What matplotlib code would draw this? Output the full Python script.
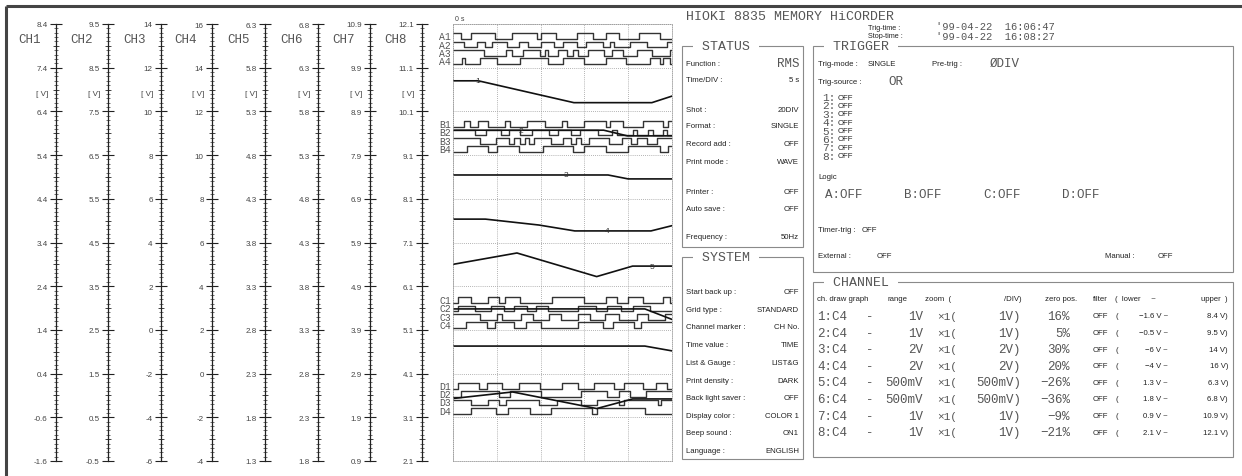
import numpy as np
import matplotlib.pyplot as plt
from matplotlib.patches import Rectangle

W, H = 1242, 477
BIG = ['Liberation Mono', 'DejaVu Sans Mono']
SMALL = ['Liberation Sans', 'DejaVu Sans']
INK = '#222222'
GREY = '#555555'

# ---- channel scales ----
ch_names = ['CH1', 'CH2', 'CH3', 'CH4', 'CH5', 'CH6', 'CH7', 'CH8']
ch_lower = [-1.6, -0.5, -6, -4, 1.3, 1.8, 0.9, 2.1]
ch_upper = [8.4, 9.5, 14, 16, 6.3, 6.8, 10.9, 12.1]
ch_fmt = ['{:.1f}', '{:.1f}', '{:.0f}', '{:.0f}', '{:.1f}', '{:.1f}', '{:.1f}', '{:.1f}']

# ---- analog traces (time in s, value in V) ----
ch1_t = [0, 2.9, 13.8, 22.7, 25]
ch1_v = [7.1, 7.1, 6.6, 6.6, 6.75]
ch2_t = [0, 17.2, 19.9, 25]
ch2_v = [7.07, 7.07, 6.94, 6.94]
ch3_t = [0, 17.7, 20.0, 25]
ch3_v = [7.09, 7.09, 6.91, 6.91]
ch4_t = [0, 3.7, 9.8, 13.9, 22.6, 25]
ch4_v = [7.07, 7.07, 6.8, 6.53, 6.53, 6.77]
ch5_t = [0, 7.3, 16.4, 20.5, 25]
ch5_v = [3.55, 3.68, 3.41, 3.53, 3.53]
ch6_t = [0, 21.9, 25]
ch6_v = [3.54, 3.54, 3.42]
ch7_t = [0, 21.9, 25]
ch7_v = [3.53, 3.53, 3.42]
ch8_t = [0, 6.8, 16.4, 20.5, 25]
ch8_v = [3.53, 3.68, 3.30, 3.52, 3.52]
trace_t = [ch1_t, ch2_t, ch3_t, ch4_t, ch5_t, ch6_t, ch7_t, ch8_t]
trace_v = [ch1_v, ch2_v, ch3_v, ch4_v, ch5_v, ch6_v, ch7_v, ch8_v]
marker_t = [2.85, 7.7, 12.9, 17.6, 22.7]

# ---- logic traces: start level and toggle times (s) ----
logic_names = ['A1', 'A2', 'A3', 'A4', 'B1', 'B2', 'B3', 'B4',
               'C1', 'C2', 'C3', 'C4', 'D1', 'D2', 'D3', 'D4']
logic_start = [1, 1, 1, 0, 0, 1, 1, 0, 0, 0, 1, 0, 0, 0, 1, 0]
logic_edges = [
    [0.9, 2.1, 4.8, 6.7, 9.6, 10.1, 11.8, 14.1, 16.0, 17.5, 18.9, 21.2, 23.6],
    [1.2, 2.7, 3.6, 4.4, 6.2, 7.5, 8.6, 10.1, 11.5, 12.6, 14.1, 15.2, 17.1, 17.9, 18.4, 20.2, 22.1, 24.4],
    [3.5, 6.0, 6.7, 8.0, 9.9, 10.5, 10.9, 12.0, 13.0, 13.7, 14.3, 15.4, 17.2, 18.1, 19.4, 21.0, 22.7, 24.8],
    [1.0, 1.4, 3.1, 5.0, 7.7, 10.9, 12.6, 14.9, 17.5, 19.7, 22.5, 23.6, 24.0, 24.8],
    [1.2, 1.9, 2.9, 4.0, 5.9, 6.5, 8.4, 10.5, 12.4, 13.0, 14.9, 17.5, 17.9, 19.4, 21.7, 24.0, 24.5],
    [2.5, 3.8, 5.5, 6.4, 7.6, 9.0, 11.0, 12.0, 13.5, 14.5, 16.5, 18.2, 18.7, 20.5, 21.0, 22.3, 22.8, 24.0, 24.4],
    [3.1, 4.9, 6.4, 7.0, 7.6, 8.2, 8.7, 9.3, 11.2, 12.5, 13.5, 14.0, 14.6, 15.5, 17.8, 19.3, 20.3, 21.0, 22.2, 23.3],
    [1.6, 4.0, 5.0, 7.5, 10.3, 13.7, 14.9, 17.5, 20.0, 23.6, 24.5],
    [0.6, 2.1, 4.0, 5.2, 5.9, 7.6, 11.3, 14.9, 17.5, 18.7, 20.0, 21.7, 24.0, 24.8],
    [0.6, 2.5, 4.3, 5.8, 7.0, 8.5, 9.5, 10.9, 14.3, 16.3, 17.6, 19.2, 20.5, 22.5],
    [3.1, 5.0, 5.6, 7.8, 9.1, 11.0, 12.3, 14.3, 15.6, 17.3, 18.9, 21.0, 22.3, 24.2],
    [1.5, 3.9, 4.8, 7.0, 8.3, 10.1, 14.3, 17.1, 18.3, 20.7, 21.5],
    [0.6, 3.0, 3.9, 5.6, 7.5, 9.9, 12.4, 14.3, 16.1, 18.4, 19.5, 21.7, 23.2, 24.4],
    [0.9, 5.2, 6.5, 10.1, 14.6, 17.6, 19.0, 20.2, 22.0],
    [2.0, 4.0, 5.2, 6.0, 9.8, 11.9, 14.6, 16.4, 19.0, 19.5, 23.4, 23.8],
    [2.0, 4.9, 6.3, 8.8, 11.2, 15.9, 16.4, 21.9],
]

# ---- settings text ----
status_keys = ['Function :', 'Time/DIV :', 'Shot :', 'Format :', 'Record add :',
               'Print mode :', 'Printer :', 'Auto save :', 'Frequency :']
status_vals = ['RMS', '5 s', '20DIV', 'SINGLE', 'OFF', 'WAVE', 'OFF', 'OFF', '50Hz']
system_keys = ['Start back up :', 'Grid type :', 'Channel marker :', 'Time value :',
               'List & Gauge :', 'Print density :', 'Back light saver :',
               'Display color :', 'Beep sound :', 'Language :']
system_vals = ['OFF', 'STANDARD', 'CH No.', 'TIME', 'LIST&G', 'DARK', 'OFF',
               'COLOR 1', 'ON1', 'ENGLISH']
trig_levels = ['OFF'] * 8
logic_cond = ['A:OFF', 'B:OFF', 'C:OFF', 'D:OFF']
chan_range = ['1V', '1V', '2V', '2V', '500mV', '500mV', '1V', '1V']
chan_zero = ['16%', '5%', '30%', '20%', '\u221226%', '\u221236%', '\u22129%', '\u221221%']


def fx(px):
    return px / W


def fy(py):
    return 1 - py / H


fig = plt.figure(figsize=(W / 100, H / 100), dpi=100)
bg = fig.add_axes([0, 0, 1, 1])
bg.set_xlim(0, W)
bg.set_ylim(H, 0)
bg.axis('off')
bg.set_zorder(0)

# frame (top and left edges)
bg.plot([6, W], [7, 7], color='#444444', lw=2.2, solid_capstyle='butt')
bg.plot([6, 6], [7, H], color='#444444', lw=2.2, solid_capstyle='butt')

TOP, BOT = 25, 462
scale_x = [56, 108, 161, 212, 265, 318, 370, 422]

for i, x0 in enumerate(scale_x):
    lo, hi = ch_lower[i], ch_upper[i]
    step = (hi - lo) / 10
    ax = fig.add_axes([fx(x0), fy(BOT), 20 / W, (BOT - TOP) / H])
    ax.set_ylim(lo, hi)
    ax.set_xlim(0, 1)
    ax.patch.set_visible(False)
    for s in ['right', 'top', 'bottom']:
        ax.spines[s].set_visible(False)
    ax.spines['left'].set_color(INK)
    ax.spines['left'].set_linewidth(0.9)
    ax.set_xticks([])
    major = [lo + k * step for k in range(11)]
    ax.set_yticks(major, [ch_fmt[i].format(round(v, 2) + 0.0) for v in major],
                  fontfamily=SMALL)
    minor = [lo + k * step / 10 for k in range(101) if k % 10 != 0]
    ax.set_yticks(minor, minor=True)
    ax.tick_params(axis='y', which='major', direction='inout', length=9, width=0.8,
                   color=INK, labelsize=5.8, labelcolor='#444444', pad=1.5)
    ax.tick_params(axis='y', which='minor', direction='inout', length=2.6, width=0.5,
                   color='#333333')
    half = [lo + (k + 0.5) * step for k in range(10)]
    ax.plot(np.zeros(len(half)), half, ls='none', marker='_', ms=5, mew=0.6,
            color='#333333', clip_on=False)
    bg.text(x0 - 38, 40, ch_names[i], fontsize=9, family=BIG, color=GREY,
            ha='left', va='center')
    bg.text(x0 - 8, 95, '[ V]', fontsize=5.8, family=SMALL, color='#444444',
            ha='right', va='center')

# ---- waveform panel ----
wx0, wx1 = 453, 672
wv = fig.add_axes([fx(wx0), fy(BOT), (wx1 - wx0) / W, (BOT - TOP) / H])
wv.set_xlim(0, 25)
wv.set_ylim(0, 10)
wv.patch.set_visible(False)
wv.set_xticks(np.arange(0, 26, 5))
wv.set_yticks(np.arange(0, 11, 1))
wv.tick_params(length=0, labelbottom=False, labelleft=False)
wv.grid(True, color='#9a9a9a', lw=0.6, linestyle=(0, (1, 1.5)))
for s in wv.spines.values():
    s.set_color('#9a9a9a')
    s.set_linewidth(0.6)
    s.set_linestyle((0, (1, 1.5)))
wv.text(0.2, 10.05, '0 s', fontsize=5, family=SMALL, color='#444444',
        ha='left', va='bottom')

group_top = [9.72, 7.71, 3.68, 1.72]
for j, name in enumerate(logic_names):
    centre = group_top[j // 4] - 0.19 * (j % 4)
    t = [0] + logic_edges[j] + [25]
    lev = [(logic_start[j] + k) % 2 for k in range(len(t) - 1)]
    lev.append(lev[-1])
    y = [centre - 0.065 + 0.13 * v for v in lev]
    wv.step(t, y, where='post', color='#333333', lw=1.0)
    wv.text(-0.2, centre, name, fontsize=7, family=BIG, color=GREY,
            ha='right', va='center', clip_on=False)

for i in range(8):
    lo, hi = ch_lower[i], ch_upper[i]
    yd = [(v - lo) / (hi - lo) * 10 for v in trace_v[i]]
    wv.plot(trace_t[i], yd, color='#111111', lw=1.2)
    if i < len(marker_t):
        ym = np.interp(marker_t[i], trace_t[i], yd)
        wv.text(marker_t[i], ym, str(i + 1), fontsize=6, family=SMALL,
                color='#333333', ha='center', va='center')


# ---- right hand panels ----
def small(x, y, s, ha='left', size=5.6):
    bg.text(x, y, s, fontsize=size, family=SMALL, color=INK, ha=ha, va='center')


def big(x, y, s, ha='left', size=9):
    bg.text(x, y, s, fontsize=size, family=BIG, color=GREY, ha=ha, va='center')


def box(x0, y0, x1, y1, title):
    bg.add_patch(Rectangle((x0, y0), x1 - x0, y1 - y0, fill=False,
                           ec='#8a8a8a', lw=0.8))
    bg.text(x0 + 12, y0, ' ' + title + ' ', fontsize=9.5, family=BIG, color=GREY,
            ha='left', va='center',
            bbox=dict(fc='white', ec='none', pad=0.4))


big(686, 16.5, 'HIOKI 8835 MEMORY HiCORDER', size=9.5)
small(868, 28, 'Trig-time :', size=5.2)
small(868, 36, 'Stop-time :', size=5.2)
big(936, 27, "'99-04-22  16:06:47", size=7.5)
big(936, 37.5, "'99-04-22  16:08:27", size=7.5)

box(682, 47, 803, 248, 'STATUS')
status_y = [64, 81, 110, 127, 145, 163, 193, 210, 238]
for k, v, yy in zip(status_keys, status_vals, status_y):
    small(686, yy, k)
    if v == 'RMS':
        big(799, yy, v, ha='right')
    else:
        small(799, yy, v, ha='right')

box(682, 258, 803, 460, 'SYSTEM')
system_y = [293, 311, 328, 346, 364, 382, 399, 417, 434, 452]
for k, v, yy in zip(system_keys, system_vals, system_y):
    small(686, yy, k)
    small(799, yy, v, ha='right')

box(813, 47, 1233, 273, 'TRIGGER')
small(818, 64, 'Trig-mode :')
small(868, 64, 'SINGLE')
small(932, 64, 'Pre-trig :')
big(990, 64, '\u00d8DIV')
small(818, 82, 'Trig-source :')
big(888, 82, 'OR')
for n, lv in enumerate(trig_levels):
    yy = 98 + 8.4 * n
    big(822, yy, f'{n + 1}:', size=8)
    small(838, yy, lv)
small(818, 178, 'Logic')
for n, s in enumerate(logic_cond):
    big(825 + 79 * n, 195, s)
small(818, 231, 'Timer-trig :')
small(862, 231, 'OFF')
small(818, 257, 'External :')
small(877, 257, 'OFF')
small(1105, 257, 'Manual :')
small(1158, 257, 'OFF')

box(813, 283, 1233, 458, 'CHANNEL')
hy = 300
small(817, hy, 'ch. draw graph')
small(888, hy, 'range')
small(925, hy, 'zoom  (')
small(1022, hy, '/DIV)', ha='right')
small(1045, hy, 'zero pos.')
small(1093, hy, 'filter')
small(1115, hy, '(  lower     ~')
small(1228, hy, 'upper  )', ha='right')
for n in range(8):
    yy = 317 + 16.6 * n
    big(817, yy, f'{n + 1}:C4')
    big(870, yy, '-', ha='center')
    big(923, yy, chan_range[n], ha='right')
    big(937, yy, '\u00d71(', size=8)
    big(1021, yy, chan_range[n] + ')', ha='right')
    big(1070, yy, chan_zero[n], ha='right')
    small(1093, yy, 'OFF')
    small(1115, yy, '(')
    small(1168, yy, '{:g} V ~'.format(ch_lower[n]).replace('-', '\u2212'), ha='right')
    small(1228, yy, '{:g} V)'.format(ch_upper[n]), ha='right')

fig.savefig('out.png', dpi=100)
